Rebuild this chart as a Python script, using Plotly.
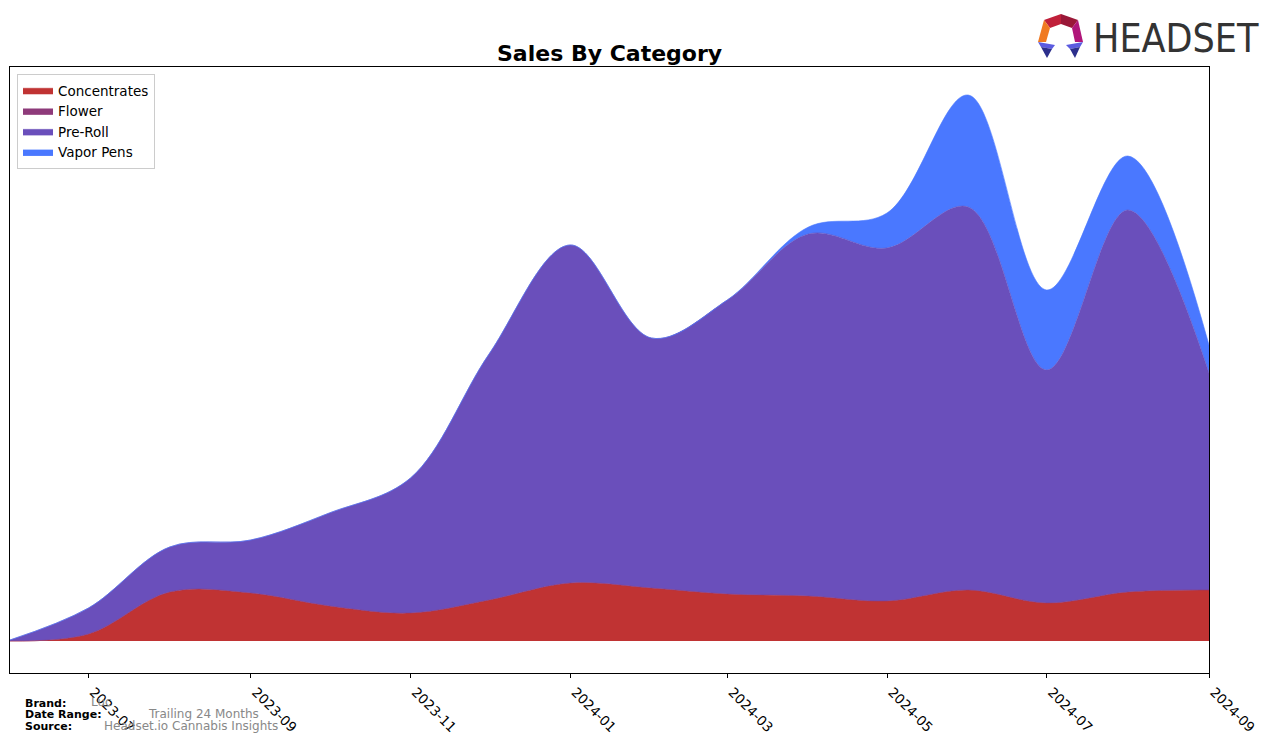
import plotly.graph_objects as go

# ---------------- data ----------------
months = ["2023-06-01", "2023-07-01", "2023-08-01", "2023-09-01", "2023-10-01",
          "2023-11-01", "2023-12-01", "2024-01-01", "2024-02-01", "2024-03-01",
          "2024-04-01", "2024-05-01", "2024-06-01", "2024-07-01", "2024-08-01",
          "2024-09-01"]
concentrates = [0, 7, 49, 48, 35, 28, 41, 58, 53, 47, 45, 40, 51, 38, 49, 51]
flower = [0, 0, 0, 0, 0, 0, 0, 0, 0, 0, 0, 0, 0, 0, 0, 0]
pre_roll = [1, 26, 45, 53, 93, 135, 246, 338, 250, 294, 362, 353, 383, 233, 382, 217]
vapor_pens = [0, 0, 0, 0, 0, 0, 0, 0, 0, 0, 7, 35, 112, 80, 54, 28]

tick_vals = ["2023-07-01", "2023-09-01", "2023-11-01", "2024-01-01",
             "2024-03-01", "2024-05-01", "2024-07-01", "2024-09-01"]
tick_text = ["2023-07", "2023-09", "2023-11", "2024-01",
             "2024-03", "2024-05", "2024-07", "2024-09"]

series = [
    ("Concentrates", concentrates, "#C03333"),
    ("Flower", flower, "#8E3A7A"),
    ("Pre-Roll", pre_roll, "#6A4FBB"),
    ("Vapor Pens", vapor_pens, "#4A78FF"),
]

# ---------------- layout geometry ----------------
W, H = 1276, 743
L, R, T, B = 10, 1209, 67, 673


def px(x):
    return (x - L) / (R - L)


def py(y):
    return (B - y) / (B - T)


fig = go.Figure()
for name, vals, col in series:
    fig.add_trace(go.Scatter(
        x=months, y=vals, name=name, mode="lines",
        stackgroup="one", line=dict(shape="spline", smoothing=1.0, width=0.6, color=col),
        fillcolor=col, hoverinfo="skip",
    ))

annotations = [
    dict(text="<b>Sales By Category</b>", x=0.5, y=py(53), xref="paper", yref="paper",
         showarrow=False, xanchor="center", yanchor="middle",
         font=dict(family="DejaVu Sans", size=22, color="black")),
]

footer = [
    ("Brand:", 703, "Luc", 89),
    ("Date Range:", 714, "Trailing 24 Months", 146),
    ("Source:", 726, "Headset.io Cannabis Insights", 102),
]
for lab, yy, val, xv in footer:
    annotations.append(dict(text="<b>%s</b>" % lab, x=px(23), y=py(yy), xref="paper", yref="paper",
                            showarrow=False, xanchor="left", yanchor="middle",
                            font=dict(family="DejaVu Sans", size=11, color="black")))
    annotations.append(dict(text=val, x=px(xv), y=py(yy - 0.5), xref="paper", yref="paper",
                            showarrow=False, xanchor="left", yanchor="middle",
                            font=dict(family="DejaVu Sans", size=12, color="#888888")))

# HEADSET wordmark
annotations.append(dict(text="HEADSET", x=px(1091), y=py(38), xref="paper", yref="paper",
                        showarrow=False, xanchor="left", yanchor="middle",
                        font=dict(family="Liberation Sans Narrow, DejaVu Sans Condensed, sans-serif",
                                  size=39, color="#333333")))


def poly(points, color):
    d = "M " + " L ".join("%f,%f" % (px(a), py(b)) for a, b in points) + " Z"
    return dict(type="path", path=d, xref="paper", yref="paper",
                fillcolor=color, line=dict(width=0), layer="above")


shapes = [
    poly([(1044, 20), (1061, 14), (1061, 24), (1050, 28)], "#C0203A"),
    poly([(1061, 14), (1078, 20), (1072, 28), (1061, 24)], "#9A1838"),
    poly([(1044, 20), (1050, 28), (1046, 42), (1038, 42)], "#F07A22"),
    poly([(1078, 20), (1083, 42), (1075, 42), (1072, 28)], "#B0167A"),
    poly([(1038, 42), (1055, 45), (1052, 49), (1041, 47)], "#5B5BE0"),
    poly([(1041, 47), (1052, 49), (1047, 58)], "#2C2F8C"),
    poly([(1066, 45), (1083, 42), (1080, 47), (1070, 49)], "#5B5BE0"),
    poly([(1070, 49), (1080, 47), (1075, 58)], "#2C2F8C"),
]

fig.update_layout(
    width=W, height=H,
    margin=dict(l=L, r=W - R, t=T, b=H - B, autoexpand=False),
    paper_bgcolor="white", plot_bgcolor="white",
    showlegend=True,
    legend=dict(x=px(17), y=py(74), xanchor="left", yanchor="top",
                bgcolor="white", bordercolor="#CCCCCC", borderwidth=1,
                font=dict(family="DejaVu Sans", size=13.5, color="black"),
                traceorder="normal"),
    annotations=annotations,
    shapes=shapes,
    xaxis=dict(type="date", range=["2023-06-01", "2024-09-01"],
               tickvals=tick_vals, ticktext=tick_text, tickangle=45,
               ticks="outside", ticklen=4, tickcolor="black",
               ticklabelshift=5, ticklabelstandoff=1,
               tickfont=dict(family="DejaVu Sans", size=13.5, color="black"),
               showline=True, linecolor="black", linewidth=1, mirror=True,
               showgrid=False, zeroline=False),
    yaxis=dict(range=[-32, 574], showticklabels=False, ticks="",
               showline=True, linecolor="black", linewidth=1, mirror=True,
               showgrid=False, zeroline=False),
)

fig.write_html("out.html")
